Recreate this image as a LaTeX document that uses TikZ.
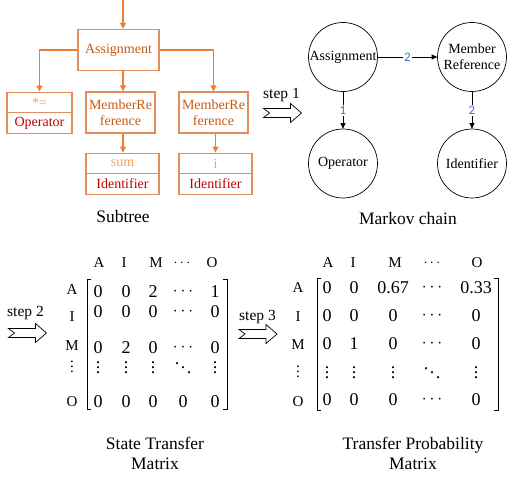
\documentclass[tikz,border=0pt]{standalone}
\usepackage{fontspec}
\setmainfont{Liberation Serif}
\newfontfamily\lblfont{Carlito}
\usetikzlibrary{arrows.meta}

\definecolor{treeline}{RGB}{237,125,49}
\definecolor{boxline}{RGB}{225,142,92}
\definecolor{boxtext}{RGB}{197,90,17}
\definecolor{valtext}{RGB}{244,160,100}
\definecolor{typetext}{RGB}{192,0,0}
\definecolor{lblblue}{RGB}{68,114,196}

% dots without the tall math boxes
\newcommand{\coldots}{\vbox{\baselineskip5pt\lineskiplimit0pt\hbox{.}\hbox{.}\hbox{.}}}
\newcommand{\diagdots}{\mbox{\raisebox{9pt}{.}\kern1.5pt\raisebox{4.5pt}{.}\kern1.5pt.}}

\tikzset{
  astbox/.style={draw=boxline,line width=1.4pt,minimum height=41pt,inner sep=1pt,text=boxtext,align=center,font=\fontsize{14}{16}\selectfont},
  halfbox/.style={draw=boxline,line width=1.4pt,minimum height=20.5pt,inner sep=1pt,font=\fontsize{14}{15}\selectfont},
  treearrow/.style={draw=treeline,line width=1.2pt,-{Triangle[length=6pt,width=6pt]}},
  state/.style={circle,draw,line width=0.7pt,minimum size=69pt,inner sep=0pt,align=center,font=\fontsize{14}{16}\selectfont},
  chainarrow/.style={line width=0.7pt,-{Triangle[length=5.5pt,width=5pt]}},
  prob/.style={fill=white,inner sep=1.5pt,text=lblblue,font=\lblfont\fontsize{13}{13}\selectfont},
  caption/.style={align=center,font=\fontsize{17.5}{20}\selectfont},
  steplabel/.style={font=\fontsize{15.5}{16}\selectfont},
  head/.style={inner sep=0pt,font=\fontsize{15}{15}\selectfont},
  entry/.style={inner sep=0pt,font=\fontsize{18}{18}\selectfont},
  bracket/.style={line width=1pt},
  steparrow/.pic={\draw[line width=0.7pt] (-19,-4.5) -- (8,-4.5) -- (8,-9.5) -- (19,0)
    -- (8,9.5) -- (8,4.5) -- (-19,4.5) -- (-13,0) -- cycle;}
}

\begin{document}
\begin{tikzpicture}[x=1pt,y=-1pt]
\useasboundingbox (0,0) rectangle (524,478);

% subtree
\coordinate (top) at (123,0);
\node[astbox,minimum width=81pt] (asg) at (118.5,50) {Assignment};
\node[halfbox,minimum width=65pt,text=valtext] (opv) at (39.5,102.5) {*=};
\node[halfbox,minimum width=65pt,text=typetext] (op) at (39.5,123) {Operator};
\node[astbox,minimum width=69pt] (mr1) at (120.5,112.5) {MemberRe\\ference};
\node[astbox,minimum width=69pt] (mr2) at (213.5,112.5) {MemberRe\\ference};
\node[halfbox,minimum width=73pt,text=valtext] (sumv) at (122.5,163.5) {sum};
\node[halfbox,minimum width=73pt,text=typetext] (sum) at (122.5,184) {Identifier};
\node[halfbox,minimum width=73pt,text=valtext] (iv) at (215.5,163.5) {i};
\node[halfbox,minimum width=73pt,text=typetext] (id) at (215.5,184) {Identifier};
\draw[treearrow] (top) -- (top |- asg.north);
\draw[treearrow] (asg.west) -| (opv.north);
\draw[treearrow] (asg.south -| top) -- (top |- mr1.north);
\draw[treearrow] (asg.east) -| (mr2.north);
\draw[treearrow] (mr1.south -| top) -- (top |- sumv.north);
\draw[treearrow] (mr2.south -| iv) -- (iv.north);
\node[caption] (treecap) at (123,217) {Subtree};

% step 1
\node[steplabel] (step1) at (281.5,95) {step 1};
\pic at (282.5,113) {steparrow};

% markov chain
\node[state] (sa) at (343,57) {Assignment};
\node[state] (sm) at (472,57) {Member\\Reference};
\node[state] (so) at (343,163.5) {Operator};
\node[state] (si) at (472,163.5) {Identifier};
\draw[chainarrow] (sa) -- node[prob] {2} (sm);
\draw[chainarrow] (sa) -- node[prob] {1} (so);
\draw[chainarrow] (sm) -- node[prob] {2} (si);
\node[caption] (chaincap) at (408,219) {Markov chain};

% step 2 + state transfer matrix
\node[steplabel] (step2) at (25.5,313) {step 2};
\pic at (27.5,333) {steparrow};
\foreach \x/\h [count=\c] in {99/A,124/I,156/M,182/$\cdots$,212/O}
  \node[head] (sh\c) at (\x,263) {\h};
\foreach \y/\h [count=\r] in {290/A,317/I,346/M,367/\coldots,402/O}
  \node[head] (sr\r) at (72,\y) {\h};
\foreach \x/\e [count=\c] in {98/0,126/0,153/2,183/$\cdots$,215/1}
  \node[entry] (st1\c) at (\x,292) {\e};
\foreach \x/\e [count=\c] in {98/0,126/0,153/0,183/$\cdots$,215/0}
  \node[entry] (st2\c) at (\x,312) {\e};
\foreach \x/\e [count=\c] in {98/0,126/2,153/0,183/$\cdots$,215/0}
  \node[entry] (st3\c) at (\x,348) {\e};
\foreach \x/\e [count=\c] in {98/\coldots,126/\coldots,153/\coldots,183/\diagdots,215/\coldots}
  \node[entry] (st4\c) at (\x,368) {\e};
\foreach \x/\e [count=\c] in {98/0,126/0,153/0,183/0,215/0}
  \node[entry] (st5\c) at (\x,402) {\e};
\draw[bracket] (91,279) -- (87,279) -- (87,409) -- (91,409);
\draw[bracket] (223,279) -- (227,279) -- (227,409) -- (223,409);
\node[caption] (stcap) at (155,453) {State Transfer\\Matrix};

% step 3 + transfer probability matrix
\node[steplabel] (step3) at (257.5,317) {step 3};
\pic at (258,334) {steparrow};
\foreach \x/\h [count=\c] in {328/A,353/I,395/M,432/$\cdots$,477/O}
  \node[head] (ph\c) at (\x,263) {\h};
\foreach \y/\h [count=\r] in {288/A,317/I,345/M,372/\coldots,402/O}
  \node[head] (pr\r) at (298,\y) {\h};
\foreach \x/\e [count=\c] in {327/0,354/0,393/0.67,432/$\cdots$,476/0.33}
  \node[entry] (tp1\c) at (\x,288) {\e};
\foreach \x/\e [count=\c] in {327/0,354/0,393/0,432/$\cdots$,476/0}
  \node[entry] (tp2\c) at (\x,316) {\e};
\foreach \x/\e [count=\c] in {327/0,354/1,393/0,432/$\cdots$,476/0}
  \node[entry] (tp3\c) at (\x,344) {\e};
\foreach \x/\e [count=\c] in {327/\coldots,354/\coldots,393/\coldots,432/\diagdots,476/\coldots}
  \node[entry] (tp4\c) at (\x,373) {\e};
\foreach \x/\e [count=\c] in {327/0,354/0,393/0,432/$\cdots$,476/0}
  \node[entry] (tp5\c) at (\x,400) {\e};
\draw[bracket] (321,278) -- (317,278) -- (317,410) -- (321,410);
\draw[bracket] (494,278) -- (498,278) -- (498,410) -- (494,410);
\node[caption] (tpcap) at (413,453) {Transfer Probability\\Matrix};
\end{tikzpicture}
\end{document}
